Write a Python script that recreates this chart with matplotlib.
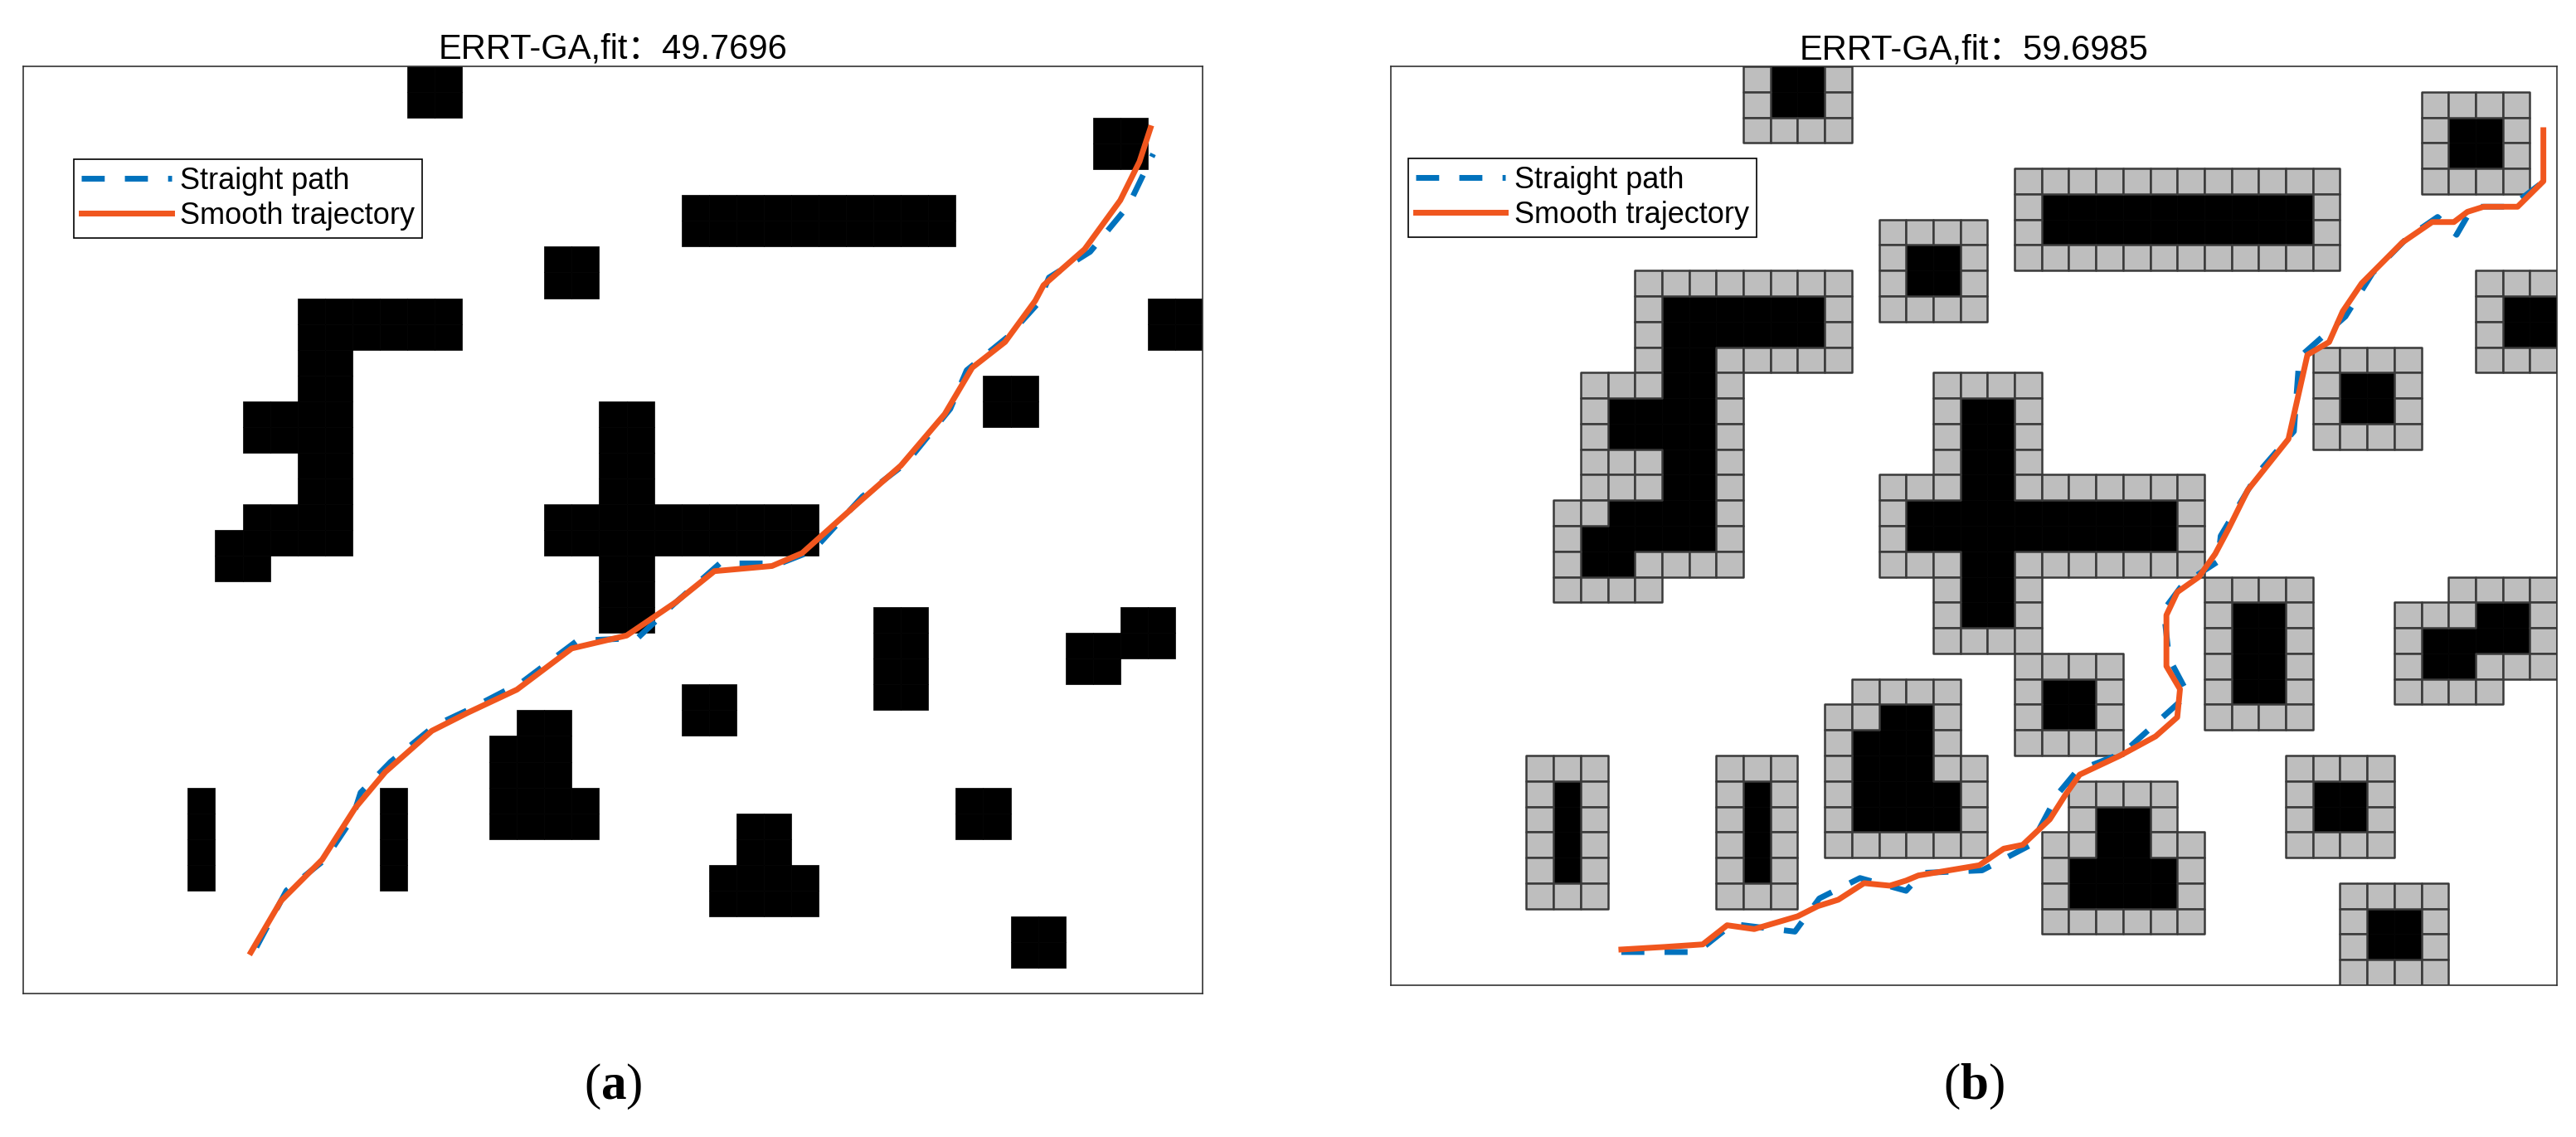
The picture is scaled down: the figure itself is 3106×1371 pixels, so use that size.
import numpy as np
import matplotlib
matplotlib.use("Agg")
import matplotlib.pyplot as plt
from matplotlib.patches import Rectangle
from matplotlib.collections import PatchCollection

plt.rcParams['mathtext.fontset'] = 'custom'
plt.rcParams['mathtext.rm'] = 'Liberation Serif'
plt.rcParams['mathtext.bf'] = 'Liberation Serif:bold'

N_COLS, N_ROWS = 43, 36

# black obstacle runs: (row_start, row_end, col_start, col_end) inclusive
obstacle_runs = [
    (0, 1, 14, 15), (2, 3, 39, 40), (5, 6, 24, 33), (7, 8, 19, 20),
    (9, 10, 10, 15), (11, 12, 10, 11), (13, 14, 8, 11), (15, 16, 10, 11),
    (17, 17, 8, 11), (18, 18, 7, 11), (19, 19, 7, 8),
    (9, 10, 41, 42), (12, 13, 35, 36),
    (13, 21, 21, 22), (17, 18, 19, 28),
    (21, 24, 31, 32),
    (21, 21, 40, 41), (22, 22, 38, 41), (23, 23, 38, 39),
    (24, 25, 24, 25),
    (25, 25, 18, 19), (26, 27, 17, 19), (28, 29, 17, 20),
    (28, 31, 6, 6), (28, 31, 13, 13),
    (28, 29, 34, 35),
    (29, 30, 26, 27), (31, 32, 25, 28),
    (33, 34, 36, 37),
]

titles = ["ERRT-GA,fit：49.7696", "ERRT-GA,fit：59.6985"]
panel_labels = ["a", "b"]
legend_labels = ["Straight path", "Smooth trajectory"]

# paths (col, row)
left_smooth_x = [8.3, 9.4, 10.9, 12.1, 13.2, 14.9, 16.2, 18.0, 20.0, 22.0, 23.8, 25.2, 27.3, 28.4,
                 30.5, 32.0, 33.6, 34.6, 35.8, 36.9, 37.2, 38.7, 40.0, 40.7, 41.1]
left_smooth_y = [34.4, 32.4, 30.8, 28.8, 27.4, 25.8, 25.1, 24.2, 22.6, 22.1, 20.8, 19.6, 19.4, 18.9,
                 16.9, 15.5, 13.5, 11.7, 10.7, 9.1, 8.5, 7.1, 5.2, 3.7, 2.4]
left_straight_x = [8.5, 9.6, 11.0, 12.0, 12.3, 13.4, 15.0, 16.2, 18.2, 20.2, 22.4, 23.7, 25.4, 27.6, 28.8,
                   30.6, 32.2, 33.8, 34.4, 35.9, 37.0, 37.4, 38.9, 40.3, 41.2]
left_straight_y = [34.2, 32.0, 30.8, 29.2, 28.2, 27.0, 25.6, 25.0, 23.9, 22.3, 22.2, 20.9, 19.3, 19.3, 18.8,
                   16.7, 15.4, 13.3, 11.8, 10.5, 9.2, 8.2, 7.2, 5.4, 3.4]

right_smooth_x = [8.5, 10.1, 11.5, 12.4, 13.4, 15.0, 15.75, 16.5, 17.45, 18.4, 19.0, 19.45, 21.7, 22.6,
                  23.3, 24.3, 24.9, 25.4, 26.9, 28.2, 29.0, 29.1, 28.6, 28.6, 29.0, 29.8, 30.4, 30.9,
                  31.6, 32.2, 33.1, 33.8, 34.6, 35.1, 35.8, 37.3, 38.4, 39.2, 39.7, 40.3, 41.55, 42.5, 42.5]
right_smooth_y = [34.6, 34.5, 34.4, 33.65, 33.8, 33.3, 32.9, 32.65, 32.0, 32.1, 31.9, 31.7, 31.3, 30.65,
                  30.5, 29.5, 28.5, 27.75, 27.0, 26.25, 25.5, 24.4, 23.5, 21.5, 20.6, 20.0, 19.1, 18.1,
                  16.6, 15.8, 14.6, 11.3, 10.8, 9.6, 8.5, 6.9, 6.1, 6.1, 5.7, 5.5, 5.5, 4.5, 2.5]
right_straight_x = [8.5, 11.3, 12.6, 14.9, 15.8, 17.3, 19.0, 19.6, 21.8, 23.6, 24.6, 25.3, 27.0, 29.4,
                    28.7, 28.5, 29.2, 30.5, 30.6, 32.0, 33.3, 33.5, 35.2, 36.2, 37.5, 38.6, 39.3, 39.9, 41.3, 42.4]
right_straight_y = [34.7, 34.7, 33.6, 33.9, 32.6, 31.8, 32.3, 31.6, 31.5, 30.5, 28.5, 27.6, 26.9, 24.6,
                    23.2, 21.3, 20.3, 19.4, 18.4, 15.9, 14.3, 11.4, 9.8, 8.1, 6.7, 5.9, 6.6, 5.5, 5.5, 4.6]

# grids
black = np.zeros((N_ROWS, N_COLS), bool)
for r0, r1, c0, c1 in obstacle_runs:
    black[r0:r1 + 1, c0:c1 + 1] = True
pad = np.pad(black, 1)
dil = np.zeros_like(black)
for dr in (-1, 0, 1):
    for dc in (-1, 0, 1):
        dil |= pad[1 + dr:1 + dr + N_ROWS, 1 + dc:1 + dc + N_COLS]
gray = dil & ~black

BLUE = '#0072BD'
ORANGE = '#F0561E'

W, H = 3106, 1371
fig = plt.figure(figsize=(W / 100, H / 100), dpi=100)
axes_px = [(28, 80, 1450, 1198), (1677, 80, 3083, 1188)]
paths = [(left_straight_x, left_straight_y, left_smooth_x, left_smooth_y),
         (right_straight_x, right_straight_y, right_smooth_x, right_smooth_y)]
title_font = ['Liberation Sans', 'Noto Sans CJK SC']

for i, (x0, y0, x1, y1) in enumerate(axes_px):
    ax = fig.add_axes([x0 / W, 1 - y1 / H, (x1 - x0) / W, (y1 - y0) / H])
    ax.set_xlim(0, N_COLS)
    ax.set_ylim(N_ROWS, 0)
    ax.set_xticks([]); ax.set_yticks([])
    for s in ax.spines.values():
        s.set_linewidth(1.2); s.set_color('#333333')
    rb = [Rectangle((c, r), 1, 1) for r, c in zip(*np.nonzero(black))]
    ax.add_collection(PatchCollection(rb, facecolor='black', edgecolor='black', linewidth=0.5, zorder=2))
    if i == 1:
        rg = [Rectangle((c, r), 1, 1) for r, c in zip(*np.nonzero(gray))]
        ax.add_collection(PatchCollection(rg, facecolor='#BEBEBE', edgecolor='#3a3a3a', linewidth=1.8, zorder=2))
    sx, sy, mx, my = paths[i]
    ax.plot(sx, sy, color=BLUE, lw=5, ls=(0, (4, 3.5)), zorder=3, label=legend_labels[0])
    ax.plot(mx, my, color=ORANGE, lw=5, zorder=4, label=legend_labels[1])
    leg = ax.legend(loc='upper left', bbox_to_anchor=(0.043 if i == 0 else 0.015, 0.9),
                    prop={'family': 'Liberation Sans', 'size': 26}, fancybox=False, framealpha=1,
                    edgecolor='black', borderpad=0.25, labelspacing=0.2, handlelength=3.0,
                    handletextpad=0.3, borderaxespad=0)
    leg.get_frame().set_linewidth(1.2)
    ax.set_title(titles[i], family=title_font, fontsize=30, pad=5)
    fig.text((x0 + x1) / 2 / W, 1 - 1310 / H, r"$(\mathbf{%s})$" % panel_labels[i],
             ha='center', va='center', fontsize=44)

fig.savefig('out.png', dpi=100, facecolor='white')
